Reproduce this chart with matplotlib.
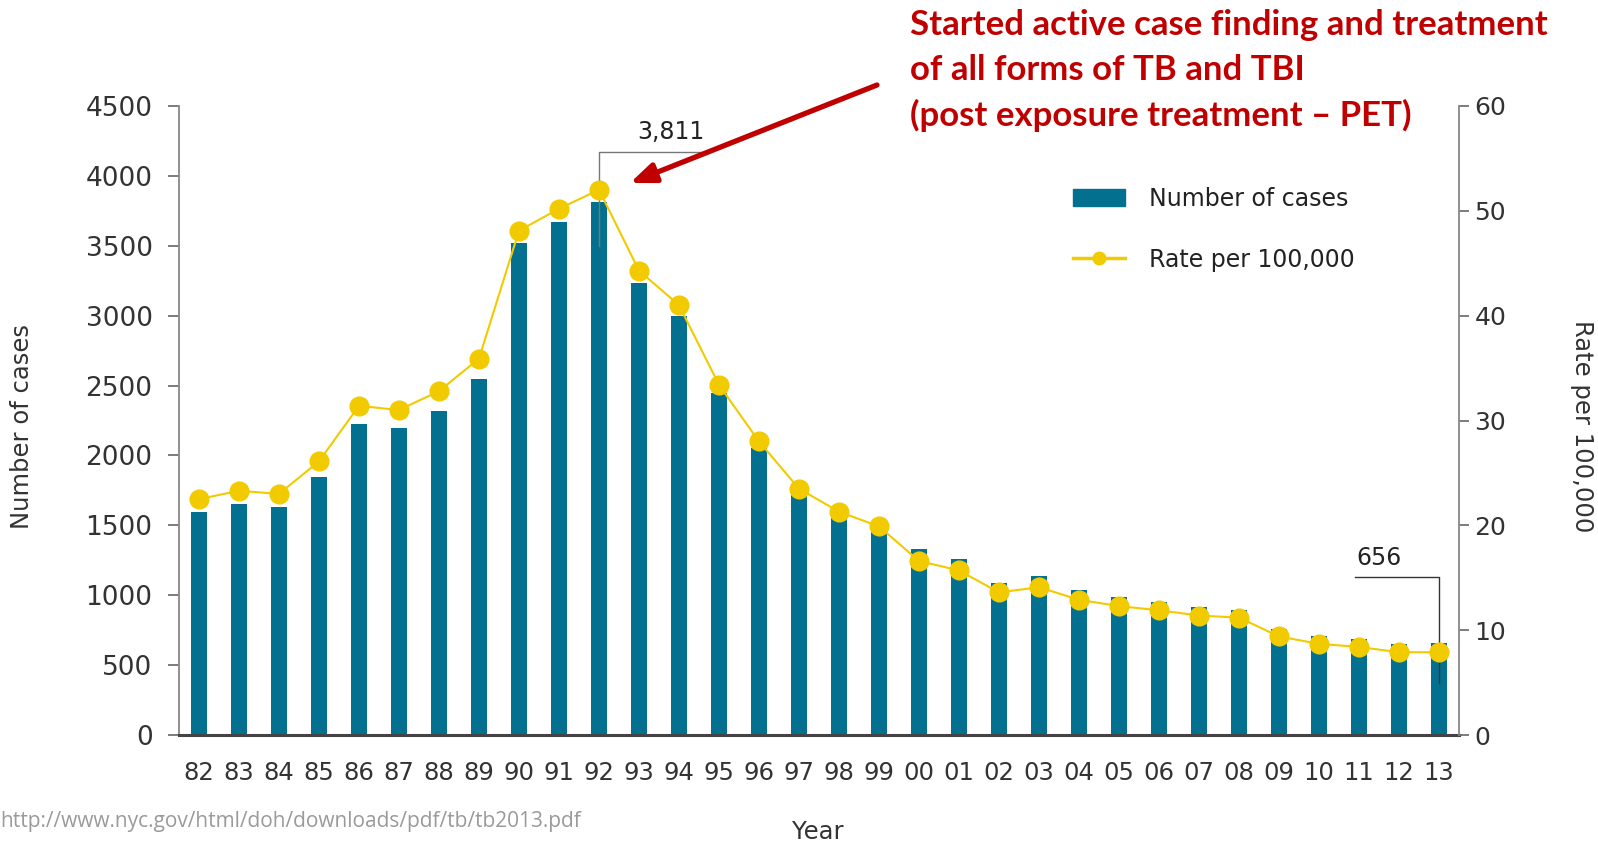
import matplotlib
matplotlib.use("Agg")
import matplotlib.pyplot as plt
import numpy as np

years = ["82","83","84","85","86","87","88","89","90","91","92","93","94","95","96","97",
         "98","99","00","01","02","03","04","05","06","07","08","09","10","11","12","13"]
cases = [1594,1651,1629,1843,2223,2197,2317,2545,3520,3673,3811,3235,2995,2445,2053,1730,
         1558,1460,1332,1261,1084,1140,1039,984,953,914,895,760,711,689,651,656]
rate = [22.5,23.3,23.0,26.1,31.4,31.0,32.8,35.9,48.1,50.2,52.0,44.3,41.0,33.4,28.0,23.5,
        21.3,19.9,16.6,15.7,13.6,14.1,12.9,12.3,11.9,11.4,11.2,9.4,8.7,8.4,7.9,7.9]
left_ticks = [0,500,1000,1500,2000,2500,3000,3500,4000,4500]
right_ticks = [0,10,20,30,40,50,60]
note_lines = ["Started active case finding and treatment",
              "of all forms of TB and TBI",
              "(post exposure treatment \u2013 PET)"]

BAR = "#04708F"
YEL = "#F2CA00"
RED = "#C00000"

fig = plt.figure(figsize=(15.98, 8.41), dpi=100)
ax = fig.add_axes([0.112, 0.126, 0.801, 0.748])
x = np.arange(len(years))
ax.bar(x, cases, width=0.42, color=BAR, zorder=2)
ax.set_xlim(-0.5, len(years) - 0.5)
ax.set_ylim(0, 4500)
ax.set_yticks(left_ticks)
ax.set_yticklabels([str(t) for t in left_ticks])
ax.set_xticks(x)
ax.set_xticklabels(years)
ax.tick_params(axis='y', labelsize=19, length=8, width=1.2, color="#666666",
               pad=11, labelcolor="#333333")
ax.tick_params(axis='x', labelsize=17.5, length=0, pad=19, labelcolor="#333333")
for s in ["top", "right"]:
    ax.spines[s].set_visible(False)
ax.spines["left"].set_color("#888888")
ax.spines["left"].set_linewidth(1.3)
ax.spines["bottom"].set_color("#444444")
ax.spines["bottom"].set_linewidth(2.2)

ax2 = ax.twinx()
ax2.plot(x, rate, color=YEL, lw=1.5, marker='o', markersize=13.5,
         markerfacecolor=YEL, markeredgecolor=YEL, zorder=3)
ax2.set_ylim(0, 60)
ax2.set_yticks(right_ticks)
ax2.tick_params(axis='y', labelsize=18, length=7, width=1.2, color="#666666",
                pad=4, labelcolor="#333333")
for s in ["top", "left", "bottom"]:
    ax2.spines[s].set_visible(False)
ax2.spines["right"].set_color("#888888")
ax2.spines["right"].set_linewidth(1.3)

# value callouts
i92 = years.index("92")
ax.plot([i92, i92, i92 + 2.6], [3500, 4170, 4170], color="#777777", lw=1, zorder=4)
ax.text(i92 + 1.8, 4230, "{:,}".format(cases[i92]), fontsize=17, ha='center',
        va='bottom', color="#222222")
i13 = years.index("13")
ax.plot([i13 - 2.1, i13, i13], [1130, 1130, 370], color="#333333", lw=1, zorder=4)
ax.text(i13 - 1.5, 1180, "{:,}".format(cases[i13]), fontsize=17, ha='center',
        va='bottom', color="#222222")

# legend
leg = ax.legend(handles=[
    matplotlib.patches.Patch(color=BAR, label="Number of cases"),
    matplotlib.lines.Line2D([], [], color=YEL, lw=2.5, marker='o', markersize=9,
                            label="Rate per 100,000")],
    loc='upper left', bbox_to_anchor=(0.682, 0.905), frameon=False, fontsize=17,
    handlelength=2.2, handleheight=0.7, handletextpad=1.0, labelspacing=1.55)
for t in leg.get_texts():
    t.set_color("#222222")

# axis labels
fig.text(0.014, 0.493, "Number of cases", rotation=90, ha='center', va='center',
         fontsize=17.5, color="#333333")
fig.text(0.990, 0.493, "Rate per 100,000", rotation=-90, ha='center', va='center',
         fontsize=17.5, color="#333333")
fig.text(0.512, 0.011, "Year", ha='center', va='center', fontsize=17.5, color="#333333")

# red annotation
for k, line in enumerate(note_lines):
    fig.text(0.5695, 1 - (25 + 45 * k) / 841, line, ha='left', va='center',
             fontsize=25, fontweight='bold', color=RED, family=["Lato", "DejaVu Sans"])
fig.patches.append(matplotlib.patches.FancyArrowPatch(
    (877 / 1598, 1 - 85 / 841), (630 / 1598, 1 - 183 / 841),
    transform=fig.transFigure, arrowstyle='-|>,head_length=15,head_width=6',
    color=RED, lw=3.8, mutation_scale=1, shrinkA=0, shrinkB=0))

# source url
fig.text(0.0, 0.023, "http://www.nyc.gov/html/doh/downloads/pdf/tb/tb2013.pdf",
         ha='left', va='center', fontsize=15, color="#9A9A9A",
         family=["Open Sans", "DejaVu Sans"])

fig.savefig("out.png", dpi=100)
